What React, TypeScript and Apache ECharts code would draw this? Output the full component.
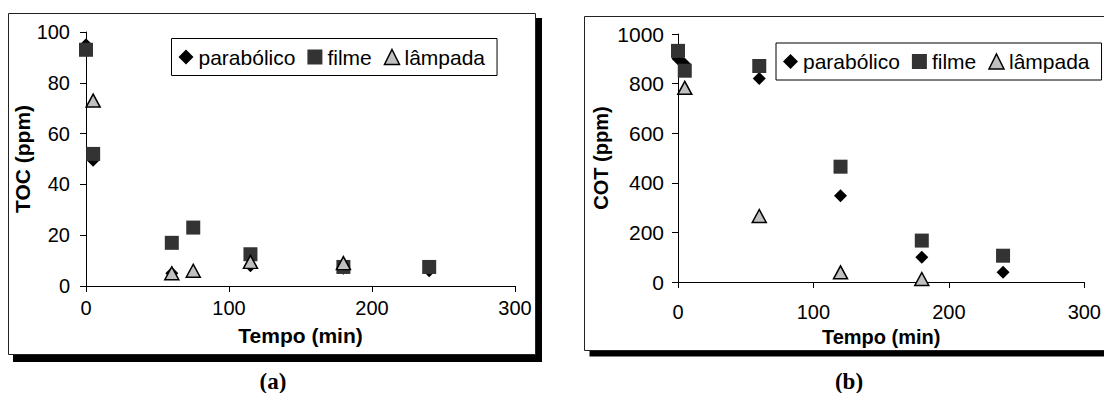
import React, { useEffect, useRef } from "react";
import * as echarts from "echarts";

const seriesNames = ["parabólico", "filme", "lâmpada"];

// Panel (a): TOC (ppm) vs Tempo (min)
const tocParabolicoTime = [0, 5, 60, 115, 180, 240];
const tocParabolico = [95, 49.5, 5, 8, 7, 6];
const tocFilmeTime = [0, 5, 60, 75, 115, 180, 240];
const tocFilme = [93, 52, 17, 23, 12.5, 7.5, 7.5];
const tocLampadaTime = [5, 60, 75, 115, 180];
const tocLampada = [73, 5, 6, 9.5, 9];

// Panel (b): COT (ppm) vs Tempo (min)
const cotParabolicoTime = [0, 5, 60, 120, 180, 240];
const cotParabolico = [900, 878, 821, 348, 100, 39];
const cotFilmeTime = [0, 5, 60, 120, 180, 240];
const cotFilme = [932, 852, 871, 465, 167, 106];
const cotLampadaTime = [5, 60, 120, 180];
const cotLampada = [783, 266, 39, 12];

const panelLabels = ["(a)", "(b)"];
const axisNames = { x: "Tempo (min)", yA: "TOC (ppm)", yB: "COT (ppm)" };

const zip = (xs: number[], ys: number[]) => xs.map((x, i) => [x, ys[i]]);

const FONT = "'Liberation Sans', Arial, sans-serif";

const styles: any = {
  "parabólico": { symbol: "diamond", symbolSize: 13, itemStyle: { color: "#000000", opacity: 1 } },
  filme: { symbol: "rect", symbolSize: 14, itemStyle: { color: "#333333", opacity: 1 } },
  "lâmpada": {
    symbol: "triangle",
    symbolSize: [14, 13],
    itemStyle: { color: "#c0c0c0", borderColor: "#000000", borderWidth: 1.5, opacity: 1 },
  },
};

function makeSeries(name: string, data: number[][], idx: number) {
  return {
    type: "scatter",
    name,
    xAxisIndex: idx,
    yAxisIndex: idx,
    data,
    ...styles[name],
  };
}

const plain = (v: number) => String(v);

function xAxis(gridIndex: number, labelMargin: number, nameGap: number, nameSize: number) {
  return {
    type: "value",
    gridIndex,
    min: 0,
    max: 300,
    interval: 100,
    axisLine: { show: true, lineStyle: { color: "#000", width: 1 } },
    axisTick: { show: true, inside: false, length: 6, lineStyle: { color: "#000" } },
    splitLine: { show: false },
    axisLabel: { fontSize: 20, color: "#000", fontFamily: FONT, margin: labelMargin, formatter: plain },
    name: axisNames.x,
    nameLocation: "middle",
    nameGap,
    nameTextStyle: { fontSize: nameSize, fontWeight: "bold", fontFamily: FONT, color: "#000" },
  };
}

function yAxis(
  gridIndex: number,
  max: number,
  interval: number,
  name: string,
  labelMargin: number,
  labelSize: number,
  nameGap: number,
  nameSize: number
) {
  return {
    type: "value",
    gridIndex,
    min: 0,
    max,
    interval,
    axisLine: { show: true, lineStyle: { color: "#000", width: 1 } },
    axisTick: { show: true, inside: false, length: 6, lineStyle: { color: "#000" } },
    splitLine: { show: false },
    axisLabel: { fontSize: labelSize, color: "#000", fontFamily: FONT, margin: labelMargin, formatter: plain },
    name,
    nameLocation: "middle",
    nameGap,
    nameTextStyle: { fontSize: nameSize, fontWeight: "bold", fontFamily: FONT, color: "#000" },
  };
}

function legend(left: number, top: number) {
  return {
    left,
    top,
    orient: "horizontal",
    padding: [8, 12, 8, 7],
    itemGap: 12,
    itemWidth: 15,
    itemHeight: 15,
    borderColor: "#000",
    borderWidth: 1,
    backgroundColor: "#fff",
    textStyle: { fontSize: 21, fontFamily: FONT, color: "#000" },
    data: seriesNames.map((n) => ({ name: n, icon: styles[n].symbol, itemStyle: styles[n].itemStyle })),
  };
}

const CAPTION_FONT = "bold 23px 'Liberation Serif', 'Times New Roman', serif";

export default function App() {
  const ref = useRef<HTMLDivElement>(null);
  useEffect(() => {
    if (!ref.current) return;
    const chart = echarts.init(ref.current, null, { renderer: "svg" });
    const option: any = {
      animation: false,
      backgroundColor: "#ffffff",
      graphic: [
        { type: "rect", z: -10, shape: { x: 13, y: 18, width: 529, height: 344 }, style: { fill: "#000" } },
        {
          type: "rect",
          z: -9,
          shape: { x: 8.5, y: 13.5, width: 527, height: 341 },
          style: { fill: "#fff", stroke: "#222", lineWidth: 1 },
        },
        { type: "rect", z: -10, shape: { x: 589.5, y: 21.5, width: 540, height: 335 }, style: { fill: "#000" } },
        {
          type: "rect",
          z: -9,
          shape: { x: 584.5, y: 16.5, width: 540, height: 334 },
          style: { fill: "#fff", stroke: "#222", lineWidth: 1 },
        },
        {
          type: "text",
          x: 273,
          y: 381,
          style: { text: panelLabels[0], font: CAPTION_FONT, fill: "#000", align: "center", verticalAlign: "middle" },
        },
        {
          type: "text",
          x: 849,
          y: 381,
          style: { text: panelLabels[1], font: CAPTION_FONT, fill: "#000", align: "center", verticalAlign: "middle" },
        },
      ],
      grid: [
        { left: 86, top: 32, width: 429, height: 254 },
        { left: 678, top: 34, width: 412, height: 248 },
      ],
      xAxis: [xAxis(0, 12, 39, 21), xAxis(1, 20, 40, 20)],
      yAxis: [
        yAxis(0, 100, 20, axisNames.yA, 16, 20, 50, 21),
        yAxis(1, 1000, 200, axisNames.yB, 14, 21, 67, 20),
      ],
      legend: [legend(171.5, 38.5), legend(776, 43)],
      series: [
        makeSeries("parabólico", zip(tocParabolicoTime, tocParabolico), 0),
        makeSeries("filme", zip(tocFilmeTime, tocFilme), 0),
        makeSeries("lâmpada", zip(tocLampadaTime, tocLampada), 0),
        makeSeries("parabólico", zip(cotParabolicoTime, cotParabolico), 1),
        makeSeries("filme", zip(cotFilmeTime, cotFilme), 1),
        makeSeries("lâmpada", zip(cotLampadaTime, cotLampada), 1),
      ],
    };
    chart.setOption(option);
    return () => chart.dispose();
  }, []);
  return (
    <div
      ref={ref}
      style={{ position: "absolute", left: 0, top: 0, width: 1104, height: 393, background: "#fff" }}
    />
  );
}
